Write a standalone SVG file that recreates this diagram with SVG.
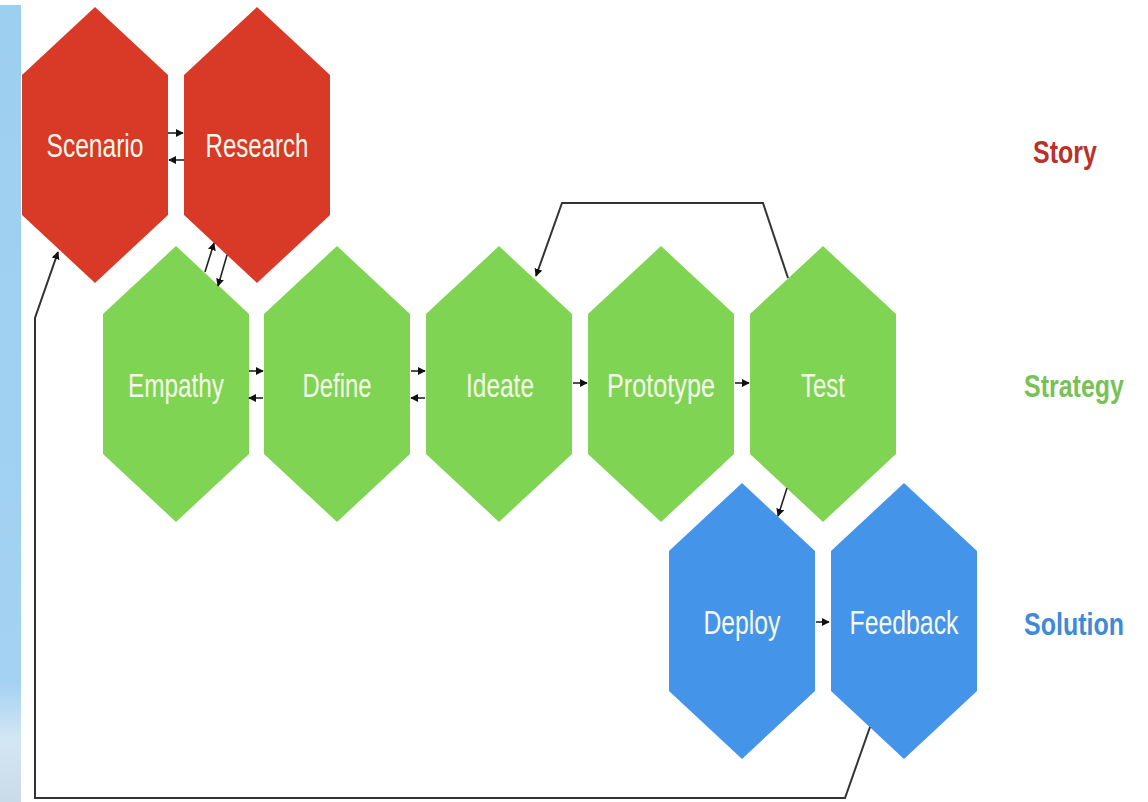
<svg xmlns="http://www.w3.org/2000/svg" width="1148" height="802" viewBox="0 0 1148 802">
<defs>
<linearGradient id="sky" x1="0" y1="0" x2="0" y2="1">
<stop offset="0" stop-color="#9dcff1"/>
<stop offset="0.85" stop-color="#a3d2f2"/>
<stop offset="0.92" stop-color="#d3e6f3"/>
<stop offset="1" stop-color="#c9dbe8"/>
</linearGradient>
<marker id="ah" viewBox="0 0 10 10" refX="9" refY="5" markerWidth="8" markerHeight="8" markerUnits="userSpaceOnUse" orient="auto">
<path d="M0,0 L10,5 L0,10 Z" fill="#111"/>
</marker>
<polygon id="hex" points="0,-138 73,-70 73,70 0,138 -73,70 -73,-70"/>
</defs>
<style>
.red{fill:#d93a27}
.green{fill:#80d453}
.blue{fill:#4495ea}
.lbl{font-family:"Liberation Sans",Arial,sans-serif;font-size:33px;fill:#f6f9ea;text-anchor:middle}
.side{font-family:"Liberation Sans",Arial,sans-serif;font-size:32px;font-weight:bold;text-anchor:middle}
.c{fill:none;stroke:#222;stroke-width:1.6;marker-end:url(#ah)}
.loop{fill:none;stroke:#333;stroke-width:2}
</style>
<rect x="0" y="0" width="1148" height="802" fill="#ffffff"/>
<rect x="0" y="5" width="21" height="797" fill="url(#sky)"/>

<g id="node-scenario"><use href="#hex" x="95" y="145" class="red"/><text class="lbl" x="95" y="157" textLength="97" lengthAdjust="spacingAndGlyphs">Scenario</text></g>
<g id="node-research"><use href="#hex" x="257" y="145" class="red"/><text class="lbl" x="257" y="157" textLength="103" lengthAdjust="spacingAndGlyphs">Research</text></g>

<g id="node-empathy"><use href="#hex" x="176" y="384" class="green"/><text class="lbl" x="176" y="397" textLength="96" lengthAdjust="spacingAndGlyphs">Empathy</text></g>
<g id="node-define"><use href="#hex" x="337" y="384" class="green"/><text class="lbl" x="337" y="397" textLength="69" lengthAdjust="spacingAndGlyphs">Define</text></g>
<g id="node-ideate"><use href="#hex" x="499" y="384" class="green"/><text class="lbl" x="500" y="397" textLength="68" lengthAdjust="spacingAndGlyphs">Ideate</text></g>
<g id="node-prototype"><use href="#hex" x="661" y="384" class="green"/><text class="lbl" x="661" y="397" textLength="108" lengthAdjust="spacingAndGlyphs">Prototype</text></g>
<g id="node-test"><use href="#hex" x="823" y="384" class="green"/><text class="lbl" x="823" y="397" textLength="44" lengthAdjust="spacingAndGlyphs">Test</text></g>

<g id="node-deploy"><use href="#hex" x="742" y="621" class="blue"/><text class="lbl" x="742" y="634" textLength="77" lengthAdjust="spacingAndGlyphs">Deploy</text></g>
<g id="node-feedback"><use href="#hex" x="904" y="621" class="blue"/><text class="lbl" x="904" y="634" textLength="109" lengthAdjust="spacingAndGlyphs">Feedback</text></g>

<g id="labels">
<text class="side" transform="translate(1065,163) scale(0.78,1)" fill="#b83229">Story</text>
<text class="side" transform="translate(1074,397) scale(0.78,1)" fill="#76c255">Strategy</text>
<text class="side" transform="translate(1074,635) scale(0.78,1)" fill="#3f8ad8">Solution</text>
</g>

<g id="connectors">
<line class="c" x1="168" y1="133" x2="183" y2="133"/>
<line class="c" x1="184" y1="160" x2="169" y2="160"/>
<line class="c" x1="205" y1="272" x2="214" y2="243"/>
<line class="c" x1="227" y1="255" x2="218" y2="286"/>
<line class="c" x1="249" y1="371" x2="263" y2="371"/>
<line class="c" x1="263" y1="398" x2="249" y2="398"/>
<line class="c" x1="411" y1="371" x2="425" y2="371"/>
<line class="c" x1="425" y1="398" x2="411" y2="398"/>
<line class="c" x1="573" y1="383" x2="587" y2="383"/>
<line class="c" x1="735" y1="383" x2="749" y2="383"/>
<line class="c" x1="816" y1="622" x2="829" y2="622"/>
<line class="c" x1="787" y1="488" x2="778" y2="516"/>
<polyline class="loop" points="788,278 763,203 562,203 536,276" marker-end="url(#ah)"/>
<polyline class="loop" points="870,727 845,798 35,798 35,318 58,252" marker-end="url(#ah)"/>
</g>
</svg>
